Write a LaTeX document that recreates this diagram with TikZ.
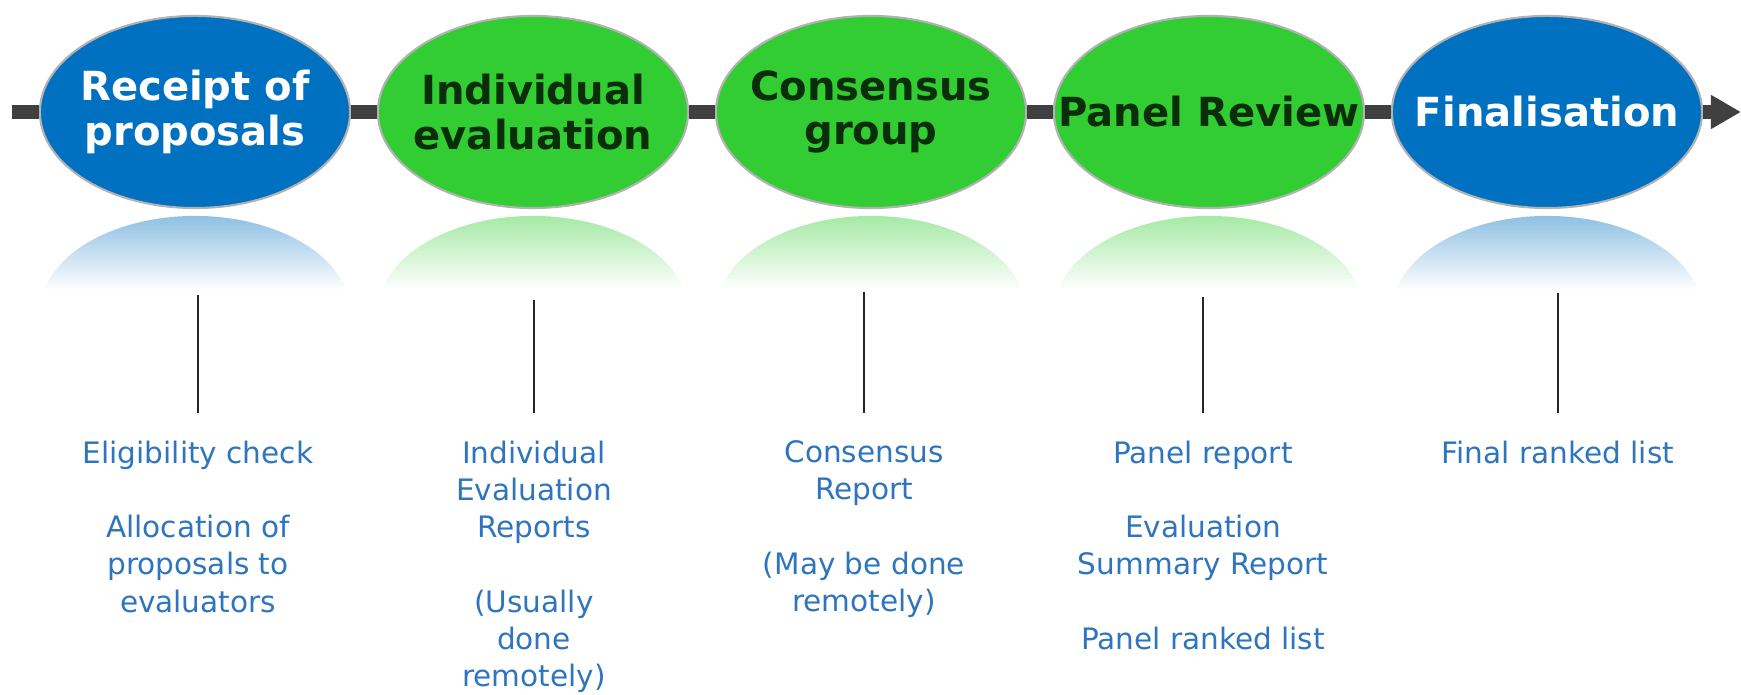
\documentclass[tikz,border=0pt]{standalone}
\usepackage{fontspec}
\setmainfont{DejaVu Sans}
\usetikzlibrary{arrows.meta,shapes.geometric}
\definecolor{stageblue}{RGB}{0,112,192}
\definecolor{stagegreen}{RGB}{50,205,50}
\definecolor{stagetext}{RGB}{10,45,10}
\definecolor{desctext}{RGB}{46,117,190}
\definecolor{barcol}{RGB}{64,64,64}

\begin{document}
\begin{tikzpicture}[x=0.01cm,y=-0.01cm,
	stage/.style={ellipse,draw=gray!60,line width=0.6pt,minimum width=3.1cm,minimum height=1.92cm,inner sep=0pt},
	stagelabel/.style={align=center,font=\fontsize{11.4}{12.6}\selectfont\bfseries},
	bluestage/.style={stage,fill=stageblue,label={[stagelabel,text=white]center:#1}},
	greenstage/.style={stage,fill=stagegreen,label={[stagelabel,text=stagetext]center:#1}},
	desc/.style={anchor=north,align=center,inner xsep=0pt,inner ysep=0.27cm,text=desctext,font=\fontsize{8.4}{10.6}\selectfont},
	bar/.style={line width=0.14cm,barcol},
	tick/.style={line width=0.6pt,black!85}]
	\useasboundingbox (0,0) rectangle (1741,695);

	\foreach \x/\c in {195/stageblue,533/stagegreen,871/stagegreen,1209/stagegreen,1547/stageblue}{
		\begin{scope}
			\clip (\x,312) ellipse (1.55cm and 0.96cm);
			\shade[top color=\c!45,bottom color=white] (\x-160,214) rectangle (\x+160,290);
		\end{scope}
	}

	\node[bluestage={Receipt of\\proposals}] (receipt) at (195,112) {};
	\node[greenstage={Individual\\evaluation}] (indiv) at (533,112) {};
	\node[greenstage={Consensus\\group}] (consensus) at (871,112) {};
	\node[greenstage={Panel Review}] (panel) at (1209,112) {};
	\node[bluestage={Finalisation}] (final) at (1547,112) {};

	\coordinate (start) at (12,112);
	\coordinate (end) at (1741,112);
	\draw[bar] (start) -- (receipt) (receipt) -- (indiv) (indiv) -- (consensus) (consensus) -- (panel) (panel) -- (final);
	\draw[bar,-{Triangle[length=0.3cm,width=0.32cm]}] (final) -- (end);

	\node[desc] (d1) at (198,413) {Eligibility check\\[0.37cm]Allocation of\\proposals to\\evaluators};
	\node[desc] (d2) at (534,413) {Individual\\Evaluation\\Reports\\[0.37cm](Usually\\done\\remotely)};
	\node[desc] (d3) at (864,413) {Consensus\\Report\\[0.37cm](May be done\\remotely)};
	\node[desc] (d4) at (1203,413) {Panel report\\[0.37cm]Evaluation\\Summary Report\\[0.37cm]Panel ranked list};
	\node[desc] (d5) at (1558,413) {Final ranked list};

	\coordinate (t1) at (198,295);
	\coordinate (t2) at (534,300);
	\coordinate (t3) at (864,292);
	\coordinate (t4) at (1203,297);
	\coordinate (t5) at (1558,293);
	\draw[tick] (t1) -- (d1) (t2) -- (d2) (t3) -- (d3) (t4) -- (d4) (t5) -- (d5);
\end{tikzpicture}
\end{document}
